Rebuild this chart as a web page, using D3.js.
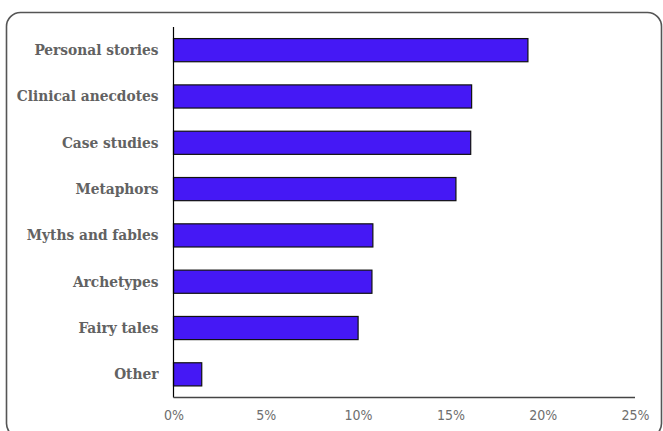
<!DOCTYPE html>
<html>
<head>
<meta charset="utf-8">
<script src="https://cdn.jsdelivr.net/npm/d3@7"></script>
<style>
  html, body { margin: 0; padding: 0; background: #fff; }
  svg { display: block; }
</style>
</head>
<body>
<svg id="chart" width="663" height="431"></svg>
<script>
const categories = ["Personal stories", "Clinical anecdotes", "Case studies", "Metaphors",
                    "Myths and fables", "Archetypes", "Fairy tales", "Other"];
const values = [0.192, 0.1615, 0.161, 0.153, 0.108, 0.1075, 0.100, 0.0153];
const tickValues = [0, 0.05, 0.10, 0.15, 0.20, 0.25];
const tickLabels = ["0%", "5%", "10%", "15%", "20%", "25%"];

(function () {
const svg = d3.select("#chart");

// outer frame
svg.append("rect")
  .attr("x", 6.5).attr("y", 12.5)
  .attr("width", 655).attr("height", 425)
  .attr("rx", 14).attr("ry", 14)
  .attr("fill", "none")
  .attr("stroke", "#555")
  .attr("stroke-width", 1.6);

const pLeft = 173.5, pRight = 635, pTop = 27, pBottom = 397.5;

const x = d3.scaleLinear().domain([0, 0.25]).range([pLeft, pRight]);
const y = d3.scaleBand().domain(categories).range([pTop, pBottom])
  .paddingInner(0.5).paddingOuter(0.25);

// bars
svg.append("g").selectAll("rect")
  .data(categories)
  .join("rect")
  .attr("x", x(0))
  .attr("y", d => y(d))
  .attr("width", (d, i) => x(values[i]) - x(0))
  .attr("height", y.bandwidth())
  .attr("fill", "#4518f5")
  .attr("stroke", "#111")
  .attr("stroke-width", 1.2);

// y axis
const yAxis = svg.append("g")
  .attr("transform", `translate(${pLeft},0)`)
  .call(d3.axisLeft(y).tickSize(0).tickPadding(15));
yAxis.select(".domain").attr("stroke", "#000").attr("stroke-width", 1.2)
  .attr("d", `M0,${pTop}V${pBottom}`);
yAxis.selectAll("text")
  .attr("font-family", "'DejaVu Serif Condensed', 'DejaVu Serif', serif")
  .attr("font-weight", "bold")
  .attr("font-size", "15.3px")
  .attr("fill", "#626262");

// x axis
const xAxis = svg.append("g")
  .attr("transform", `translate(0,${pBottom})`)
  .call(d3.axisBottom(x).tickValues(tickValues)
    .tickFormat((d, i) => tickLabels[i]).tickSize(0).tickPadding(13));
xAxis.select(".domain").attr("stroke", "#444").attr("stroke-width", 1.4)
  .attr("d", `M${pLeft},0H${pRight}`);
xAxis.selectAll("text")
  .attr("font-family", "'DejaVu Sans Condensed', 'DejaVu Sans', sans-serif")
  .attr("font-size", "14px")
  .attr("fill", "#6e6e6e");
})();
</script>
</body>
</html>
